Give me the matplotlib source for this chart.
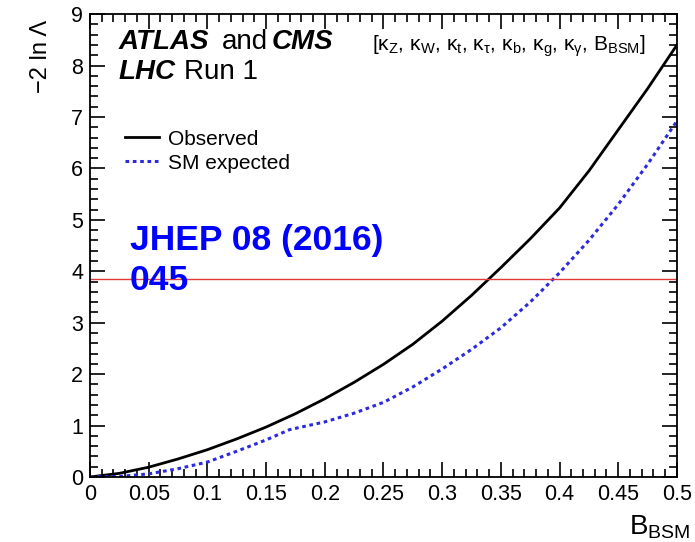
import numpy as np
import matplotlib
matplotlib.use('Agg')
import matplotlib.pyplot as plt
from matplotlib.ticker import MultipleLocator

plt.rcParams['font.family'] = ['Liberation Sans', 'DejaVu Sans']
plt.rcParams['mathtext.fontset'] = 'custom'
plt.rcParams['mathtext.rm'] = 'Liberation Sans'
plt.rcParams['mathtext.it'] = 'Liberation Sans:italic'
plt.rcParams['mathtext.default'] = 'regular'

# Значення
b_bsm = [0.0, 0.025, 0.05, 0.075, 0.1, 0.125, 0.15, 0.175, 0.2, 0.225, 0.25,
         0.275, 0.3, 0.325, 0.35, 0.375, 0.4, 0.425, 0.45, 0.475, 0.5]
observed = [0.0, 0.07, 0.19, 0.35, 0.53, 0.74, 0.97, 1.23, 1.52, 1.84, 2.19,
            2.58, 3.03, 3.53, 4.07, 4.63, 5.23, 5.95, 6.75, 7.55, 8.4]
b_exp = [0.0, 0.025, 0.05, 0.075, 0.1, 0.125, 0.15, 0.17, 0.2, 0.225, 0.25,
         0.275, 0.3, 0.325, 0.35, 0.375, 0.4, 0.425, 0.45, 0.475, 0.5]
expected = [0.0, 0.01, 0.06, 0.16, 0.29, 0.5, 0.72, 0.92, 1.07, 1.24, 1.45,
            1.75, 2.1, 2.48, 2.9, 3.4, 3.97, 4.6, 5.3, 6.08, 6.92]
cl95 = 3.84

fig = plt.figure(figsize=(6.95, 5.42), dpi=100)
ax = fig.add_axes([0.1295, 0.12, 0.8445, 0.854])

ax.plot(b_bsm, observed, color='black', lw=2, label='Observed')
ax.plot(b_exp, expected, color='#2b2bdd', lw=2.2, ls=(0, (1.2, 1.2)), label='SM expected')
ax.axhline(cl95, color='#e03a3a', lw=1)

ax.set_xlim(0, 0.5)
ax.set_ylim(0, 9)
ax.xaxis.set_minor_locator(MultipleLocator(0.01))
ax.yaxis.set_major_locator(MultipleLocator(1))
ax.yaxis.set_minor_locator(MultipleLocator(0.2))
ax.set_xticks(np.arange(0, 0.51, 0.05))
ax.set_xticklabels(['0', '0.05', '0.1', '0.15', '0.2', '0.25', '0.3', '0.35', '0.4', '0.45', '0.5'])
ax.tick_params(which='both', direction='in', top=True, right=True, labelsize=15.5, width=1.2)
ax.tick_params(which='major', length=11, pad=5)
ax.tick_params(which='minor', length=5.5)
for s in ax.spines.values():
    s.set_linewidth(1.3)

ax.set_ylabel('\u22122 ln \u039b', fontsize=17)
ax.yaxis.set_label_coords(-0.065, 0.987)
ax.yaxis.label.set_ha('right')
ax.set_xlabel('B$_{BSM}$', fontsize=20)
ax.xaxis.set_label_coords(1.022, -0.08)
ax.xaxis.label.set_ha('right')

ax.text(0.024, 8.46, 'ATLAS', fontsize=20, fontweight='bold', style='italic', va='center')
ax.text(0.112, 8.46, 'and', fontsize=20, va='center')
ax.text(0.155, 8.46, 'CMS', fontsize=20, fontweight='bold', style='italic', va='center')
ax.text(0.024, 7.88, 'LHC', fontsize=20, fontweight='bold', style='italic', va='center')
ax.text(0.08, 7.88, 'Run 1', fontsize=20, va='center')
ax.text(0.24, 8.38, r'[$\kappa_Z$, $\kappa_W$, $\kappa_t$, $\kappa_\tau$, $\kappa_b$, '
        r'$\kappa_g$, $\kappa_\gamma$, B$_{BSM}$]', fontsize=15, va='center')

ax.legend(loc='upper left', bbox_to_anchor=(0.028, 0.791), frameon=False, fontsize=15,
          handlelength=1.6, handletextpad=0.45, labelspacing=0.25)

ax.text(0.034, 4.6, 'JHEP 08 (2016)', fontsize=25.5, fontweight='bold', color='blue', va='center')
ax.text(0.034, 3.82, '045', fontsize=25.5, fontweight='bold', color='blue', va='center')

fig.savefig('out.png', dpi=100)
